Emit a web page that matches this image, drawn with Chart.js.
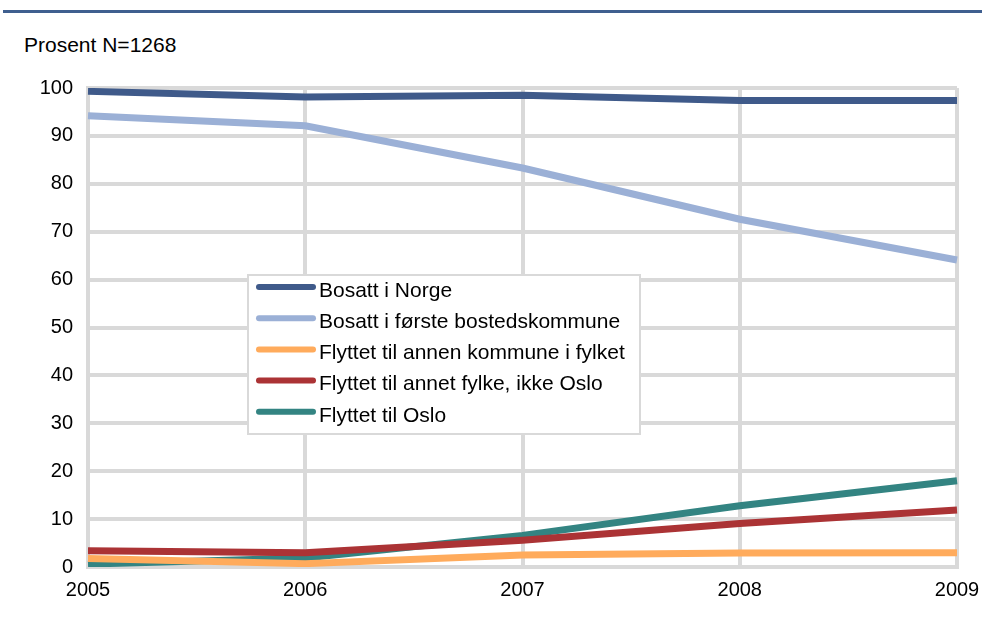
<!DOCTYPE html>
<html lang="no">
<head>
  <meta charset="utf-8">
  <title>Bosatt i Norge og første bostedskommune</title>
  <script src="https://cdn.jsdelivr.net/npm/chart.js@4"></script>
  <style>
body {
  margin: 0;
  background: #fff;
  font-family: "Liberation Sans", Arial, sans-serif;
}
#wrap {
  position: relative;
  width: 982px;
  height: 619px;
}
#rule {
  position: absolute;
  left: 3px;
  right: 0;
  top: 10px;
  height: 3px;
  background: #3f5f8f;
}
#unit {
  position: absolute;
  left: 24px;
  top: 33px;
  font-size: 21px;
  color: #000;
}
#chart {
  position: absolute;
  left: 0;
  top: 0;
}
  </style>
</head>
<body>
  <div id="wrap">
    <div id="rule"></div>
    <div id="unit">Prosent N=1268</div>
    <canvas id="chart" width="982" height="619"></canvas>
  </div>
  <script>
// values
const years = ['2005', '2006', '2007', '2008', '2009'];
const bosattNorge = [99.3, 98.1, 98.5, 97.4, 97.4];
const bosattForste = [94.2, 92.1, 83.3, 72.6, 64.1];
const flyttetFylket = [1.8, 0.7, 2.5, 2.9, 3.0];
const flyttetAnnet = [3.4, 3.0, 5.6, 9.1, 11.9];
const flyttetOslo = [0.6, 1.9, 6.6, 12.8, 18.0];

const labels = [
  'Bosatt i Norge',
  'Bosatt i første bostedskommune',
  'Flyttet til annen kommune i fylket',
  'Flyttet til annet fylke, ikke Oslo',
  'Flyttet til Oslo'
];
const colors = ['#3f5a8a', '#9bb0d6', '#ffab5c', '#ab3335', '#338482'];
const series = [bosattNorge, bosattForste, flyttetFylket, flyttetAnnet, flyttetOslo];

const font = '"Liberation Sans", Arial, sans-serif';
const grid = '#d9d9d9';

// legend box sits inside the plot, so it is drawn by hand
const boxLegend = {
  id: 'boxLegend',
  afterDatasetsDraw(chart) {
    const ctx = chart.ctx;
    ctx.save();
    ctx.fillStyle = '#fff';
    ctx.fillRect(248, 275, 392, 159);
    ctx.strokeStyle = grid;
    ctx.lineWidth = 2;
    ctx.strokeRect(248, 275, 392, 159);
    ctx.font = '21px ' + font;
    ctx.textBaseline = 'middle';
    chart.data.datasets.forEach((ds, i) => {
      const y = 287 + i * 31.2;
      ctx.strokeStyle = ds.borderColor;
      ctx.lineWidth = 6;
      ctx.lineCap = 'round';
      ctx.beginPath();
      ctx.moveTo(259, y);
      ctx.lineTo(313, y);
      ctx.stroke();
      ctx.fillStyle = '#000';
      ctx.fillText(ds.label, 319, y + 4);
    });
    ctx.restore();
  }
};

new Chart(document.getElementById('chart'), {
  type: 'line',
  data: {
    labels: years,
    datasets: series.map((d, i) => ({
      label: labels[i],
      data: d,
      borderColor: colors[i],
      backgroundColor: colors[i],
      borderWidth: 7,
      pointRadius: 0,
      tension: 0
    }))
  },
  options: {
    responsive: false,
    animation: false,
    layout: { padding: { top: 88, right: 0, left: 0, bottom: 0 } },
    scales: {
      x: {
        offset: false,
        afterFit: (s) => { s.height = 52; s.paddingRight = 25; s.paddingLeft = 0; },
        grid: { color: grid, lineWidth: 4, drawTicks: false },
        border: { color: grid, width: 4 },
        ticks: { color: '#000', font: { family: font, size: 20 }, padding: 11, maxRotation: 0 }
      },
      y: {
        min: 0,
        max: 100,
        afterFit: (s) => { s.width = 88; },
        grid: { color: grid, lineWidth: 4, drawTicks: false },
        border: { color: grid, width: 4 },
        ticks: { stepSize: 10, color: '#000', font: { family: font, size: 20 }, padding: 15 }
      }
    },
    plugins: {
      legend: { display: false },
      tooltip: { enabled: false }
    }
  },
  plugins: [boxLegend]
});
  </script>
</body>
</html>
